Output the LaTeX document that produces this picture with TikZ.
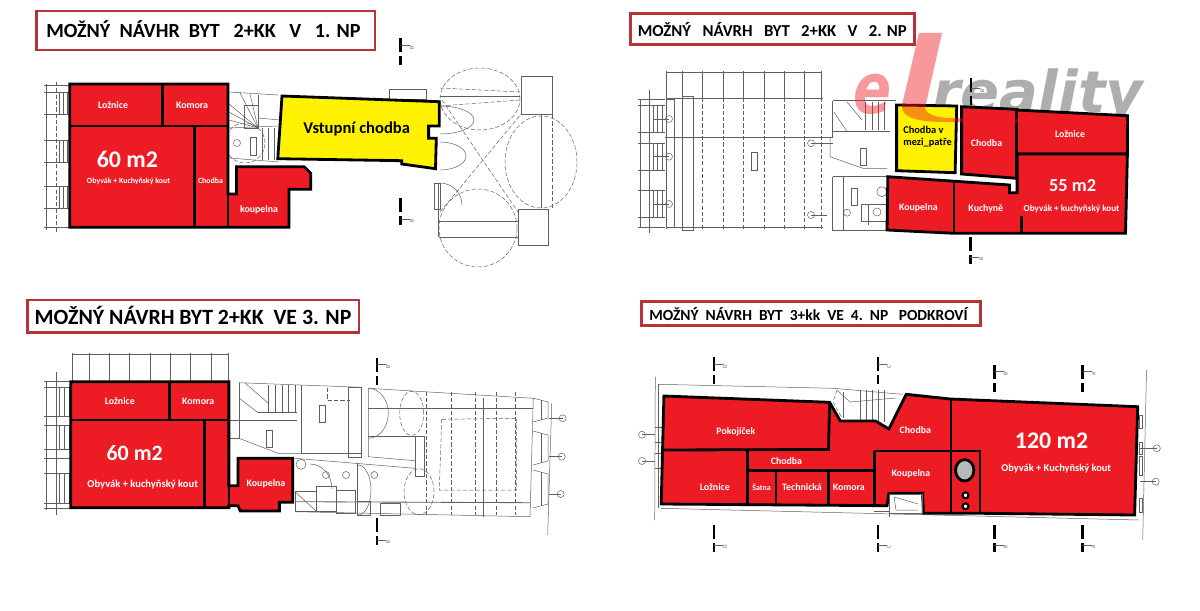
\documentclass[tikz,border=0pt]{standalone}
\usepackage{fontspec}
\usepackage{xcolor}
\setmainfont{Carlito}
\newfontfamily\wmfont{DejaVu Sans}
\usetikzlibrary{positioning}
\definecolor{roomred}{HTML}{ED1C24}
\definecolor{roomyellow}{HTML}{FFF200}
\definecolor{titlered}{HTML}{B8323A}
\definecolor{planline}{HTML}{606060}
\newcommand{\secmark}[5]{
        \draw [secbar] (#1,-#2) -- (#1,-#2-14);
        \draw [secbar] (#1,-#2-18) -- (#1,-#2-27);
        \draw [plan] (#1,-#3) -- (#1+9,-#3);
        \node [seclab] (#5) at (#1+11,-#3-2) {#4};
}
\newcommand{\callout}[4]{
        \draw [plan] (#1,-#2) circle (3.5);
        \draw [plan] (#1,-#2) -- (#3,-#4);
}
\begin{document}
\begin{tikzpicture}[x=0.025cm,y=0.025cm]
        \tikzstyle{every node}+=[inner sep=0pt]
        \tikzstyle{plan}=[draw=planline,line width=0.35pt]
        \tikzstyle{plandash}=[plan,dashed,dash pattern=on 3pt off 1.5pt]
        \tikzstyle{secbar}=[draw=black,line width=1.8pt]
        \tikzstyle{seclab}=[font=\fontsize{4}{4}\selectfont,text=planline,rotate=90]
        \tikzstyle{titlebox}=[draw=titlered,line width=2pt,fill=white]
        \tikzstyle{titletext}=[anchor=west,text=black,font=\bfseries\fontsize{14.3}{16}\selectfont]
        \tikzstyle{wall}=[draw=black,line width=2pt,line join=miter]
        \tikzstyle{room}=[wall,fill=roomred]
        \tikzstyle{hall}=[wall,fill=roomyellow]
        \tikzstyle{roomlab}=[text=white,font=\bfseries\fontsize{7}{8}\selectfont]
        \tikzstyle{smalllab}=[text=white,font=\bfseries\fontsize{5.6}{6}\selectfont]
        \tikzstyle{arealab}=[text=white,font=\bfseries\fontsize{17}{18}\selectfont]
        \tikzstyle{halllab}=[text=black,font=\bfseries\fontsize{11.8}{12}\selectfont]
        \useasboundingbox (0,0) rectangle (1200,-610);
        \fill [white] (0,0) rectangle (1200,-610);
        \draw [plan] (46,-84) -- (46,-230);
        \draw [plandash] (56.6,-82) -- (56.6,-232);
        \foreach \ytick in {85,92,114,140,162,186,208,227}
                \draw [plan] (44,-\ytick) -- (70,-\ytick);
        \foreach \yone/\ytwo in {92/114,140/162,186/208} {
                \draw [plan] (59,-\yone) rectangle (67,-\ytwo);
                \draw [plan] (63,-\yone) -- (63,-\ytwo);
        }
        \draw [plan] (229,-92) -- (278,-95);
        \draw [plan] (229,-158) -- (279,-162);
        \foreach \xend/\yend in {240/93,250/94,258/95,229/104,229/112,229/120}
                \draw [plan] (\xend,-\yend) -- (258,-128);
        \draw [plan] (244,-105) rectangle (258,-128);
        \draw [plan] (258,-118) -- (280,-120);
        \draw [plan] (229,-128) -- (278,-126);
        \draw [plan] (250,-137) rectangle (256,-155);
        \draw [plan] (237,-143) circle (3.5);
        \draw [plandash] (245,-143) circle (20);
        \foreach \xpos in {262,268,274}
                \draw [plan] (\xpos,-128) -- (\xpos,-160);
        \draw [plan] (389.6,-89) rectangle (426.7,-99);
        \draw [plandash] (480,-99) ellipse (40 and 31);
        \draw [plandash] (541,-162) ellipse (36 and 46);
        \draw [plandash] (478,-228) ellipse (39 and 39);
        \draw [plan] (521.6,-76) rectangle (552,-114);
        \draw [plan] (518.6,-209) rectangle (548,-245);
        \draw [plan] (440,-96) -- (520,-96);
        \draw [plandash] (440,-88) -- (520,-92);
        \draw [plandash] (440,-106) -- (520,-100);
        \draw [plan] (439,-221) -- (518,-221);
        \draw [plan] (439,-237) -- (518,-237);
        \draw [plan] (438,-237) -- (438,-183);
        \draw [plandash] (442,-100) -- (518,-212);
        \draw [plandash] (440,-212) -- (522,-113);
        \draw [plan] (541,-115) -- (541,-208);
        \draw [plandash] (552,-115) -- (552,-208);
        \draw [plan] (434,-183) rectangle (440,-209);
        \draw [plan] (440,-183) arc [start angle=90,end angle=0,radius=22];
        \draw [plan] (440,-142) arc [start angle=90,end angle=-90,x radius=26,y radius=14];
        \draw [plan] (440,-106) arc [start angle=90,end angle=-90,x radius=34,y radius=14];
        \secmark{400.7}{38}{45}{B'}{secAtop}
        \secmark{400.7}{198}{219}{B}{secAbot}
        \draw [room] (69.7,-84) -- (228,-84) -- (228,-194) -- (236.5,-194) -- (236.5,-166.7) -- (304.2,-166.7) -- (310.8,-173.3) -- (310.8,-189.3) -- (289,-189.3) -- (289,-227.3) -- (69.7,-227.3) -- cycle;
        \draw [wall] (69.7,-126) -- (228,-126);
        \draw [wall] (162.3,-84) -- (162.3,-126);
        \draw [wall] (194.4,-126) -- (194.4,-227.3);
        \draw [wall,line width=1pt] (228,-126) -- (228,-227.3);
        \draw [hall] (282,-96) -- (439.3,-101.7) -- (439.3,-126) -- (428.6,-126) -- (428.6,-138.3) -- (436.3,-138.3) -- (435.5,-168.7) -- (401.8,-164) -- (401.8,-160.7) -- (277.8,-158.7) -- cycle;
        \draw [titlebox] (36.5,-11) rectangle (375,-50);
        \node [titletext] (titleA) at (46,-29) {MOŽNÝ\ \ NÁVHR\ \ BYT\ \ \ 2+KK\ \ \ V\ \ \ 1. NP};
        \node [roomlab] (loznA) at (113,-105) {Ložnice};
        \node [roomlab] (komoraA) at (192,-105) {Komora};
        \node [arealab] (areaA) at (127.4,-159) {60 m2};
        \node [smalllab] (obyvakA) at (128.5,-181) {Obyvák + Kuchyňský kout};
        \node [smalllab] (chodbaA) at (210.5,-181) {Chodba};
        \node [roomlab] (koupA) at (259,-210) {koupelna};
        \node [halllab] (vstupA) at (356.7,-128.7) {Vstupní chodba};
        \draw [plan] (649,-90) -- (649,-233);
        \draw [plan] (640,-99) -- (640,-228);
        \foreach \ytick in {99.3,105,132.7,143.3,170.7,190,217.3,227.7}
                \draw [plan] (638,-\ytick) -- (665,-\ytick);
        \foreach \yone/\ytwo in {105/132.7,143.3/170.7,190/217.3} {
                \draw [plan] (653,-\yone) rectangle (662,-\ytwo);
                \draw [plan] (657.5,-\yone) -- (657.5,-\ytwo);
        }
        \draw [plan] (666,-72.7) -- (821.7,-72.7);
        \foreach \xtick in {666,682.3,702.7,723.3,743.3,764,784.3,804.7,821.7} {
                \draw [plan] (\xtick,-71) -- (\xtick,-98);
                \draw [plandash] (\xtick,-98) -- (\xtick,-230);
        }
        \draw [plan] (666,-98.3) -- (823,-98.3);
        \draw [plan] (666,-227.7) -- (823,-227.7);
        \draw [plan] (666,-99.3) rectangle (674.3,-227.7);
        \draw [plan] (682,-96) rectangle (693,-230.7);
        \draw [plan,line width=0.6pt] (665,-137.3) -- (833,-137.3);
        \draw [plan] (751.7,-152.7) rectangle (757.3,-170.7);
        \draw [plan] (860.7,-148.3) rectangle (866,-165);
        \callout{669}{119}{654}{119}
        \callout{669}{156.7}{654}{156.7}
        \callout{669}{204}{654}{204}
        \callout{811}{143.3}{833}{143.3}
        \callout{811}{215}{827}{215}
        \draw [plan] (832.7,-100.7) -- (896,-100.7);
        \draw [plan] (832.7,-100.7) -- (832.7,-137);
        \draw [plan] (832.7,-131.7) -- (890,-131.7);
        \draw [plan] (834,-112) -- (847,-131.7);
        \draw [plan] (847,-102) -- (862,-120);
        \foreach \xpos in {865,872,878,884}
                \draw [plan] (\xpos,-102) -- (\xpos,-130);
        \draw [plan] (830,-137) -- (830,-156.7) -- (863,-168.3) -- (887,-168.3);
        \draw [plan] (832.7,-176.7) -- (886.7,-176.7);
        \draw [plan] (832.7,-176.7) -- (832.7,-230.7) -- (886.7,-230.7);
        \draw [plan] (843.3,-176.7) -- (843.3,-230);
        \draw [plan] (851.7,-188.3) rectangle (857.3,-205);
        \draw [plan] (881.7,-191.7) circle (5);
        \draw [plan] (847,-212.7) circle (3.5);
        \draw [plan] (861.7,-204) rectangle (886.7,-221.7);
        \draw [plan] (868,-204) -- (868,-225);
        \draw [plan] (877,-212) circle (4);
        \node [text=gray!70,opacity=0.9,font=\wmfont\bfseries\itshape\fontsize{41}{41}\selectfont,anchor=base west] (wmreality) at (932,-113) {reality};
        \secmark{971}{78}{88}{B'}{secBtop}
        \secmark{970.4}{237}{257}{B}{secBbot}
        \draw [hall] (896.6,-105) -- (956.7,-106) -- (955.1,-172.7) -- (896.6,-170.7) -- cycle;
        \draw [room] (961.6,-106.7) -- (1016.4,-109.3) -- (1016.4,-178.3) -- (961.6,-174) -- cycle;
        \draw [room] (1016.4,-110) -- (1127.4,-115.7) -- (1127.4,-154) -- (1016.4,-154) -- cycle;
        \draw [room] (887.8,-176.7) -- (1009.5,-185) -- (1009.5,-192.7) -- (1017.1,-192.7) -- (1017.1,-154) -- (1127.4,-154) -- (1125.5,-233.3) -- (954,-233.3) -- (887,-230) -- cycle;
        \draw [wall] (954,-182.7) -- (954,-233.3);
        \draw [wall] (1021.7,-216) -- (1021.7,-233.3);
        \draw [titlebox] (630.6,-13.3) rectangle (914.6,-44.3);
        \node [titletext,font=\bfseries\fontsize{11.9}{14}\selectfont] (titleB) at (637.5,-29.3) {MOŽNÝ\ \ \ NÁVRH\ \ \ BYT\ \ \ 2+KK\ \ \ V\ \ \ 2. NP};
        \node [roomlab] (koupB) at (918.4,-208) {Koupelna};
        \node [roomlab] (kuchB) at (985.8,-208.7) {Kuchyně};
        \node [roomlab,font=\bfseries\fontsize{6.5}{8}\selectfont] (obyvakB) at (1071.5,-209.3) {Obyvák + kuchyňský kout};
        \node [arealab,font=\bfseries\fontsize{13}{14}\selectfont] (areaB) at (1072.6,-186) {55 m2};
        \node [roomlab] (loznB) at (1070,-133.7) {Ložnice};
        \node [roomlab] (chodbaB) at (986.5,-143.3) {Chodba};
        \node [halllab,font=\bfseries\fontsize{7.4}{8.7}\selectfont,align=left,anchor=north west] (mezipatroB) at (903,-126) {Chodba v\\mezi\_patře};
        \fill [roomred,opacity=0.45] (919,-33) -- (942,-33) -- (925,-108) .. controls (927,-116) and (940,-118) .. (953,-118) -- (1127,-121) -- (1127,-124) -- (945,-122) .. controls (920,-122) and (900,-118) .. (902,-105) -- cycle;
        \node [text=roomred,opacity=0.45,font=\wmfont\bfseries\itshape\fontsize{50}{50}\selectfont,xscale=0.8,anchor=base west] (wme) at (853,-114) {e};
        \draw [plan] (72,-354.3) -- (228.9,-354.3);
        \foreach \xtick in {72,88.8,109,129.4,150,170.3,190.6,211.6,228.5}
                \draw [plan] (\xtick,-353) -- (\xtick,-381);
        \draw [plan] (56,-372) -- (56,-515);
        \draw [plan] (46,-381) -- (46,-510);
        \foreach \ytick in {381,387.7,416.7,425,449,458.3,473,503,508}
                \draw [plan] (44,-\ytick) -- (70,-\ytick);
        \foreach \yone/\ytwo in {387.7/416.7,425/449,473/503} {
                \draw [plan] (59,-\yone) rectangle (69,-\ytwo);
                \draw [plan] (64,-\yone) -- (64,-\ytwo);
        }
        \draw [plan] (239,-382.7) -- (361,-387.3);
        \draw [plan] (239,-382.7) -- (239,-420) -- (296.7,-420);
        \draw [plan] (239,-438.3) -- (278.3,-453.3) -- (301.7,-453.3);
        \draw [plan] (229,-420) rectangle (239,-438);
        \draw [plan] (301.7,-385) -- (301.7,-453.3) -- (361,-453.3);
        \draw [plan] (348.3,-387.3) rectangle (361,-457.3);
        \draw [plan] (239,-398) -- (258,-412.7);
        \draw [plan] (245,-383) -- (268,-403);
        \draw [plan] (258,-412.7) -- (297,-412.7);
        \foreach \xpos in {268,275,282,288,295}
                \draw [plan] (\xpos,-385) -- (\xpos,-412);
        \draw [plan] (266.7,-430) rectangle (272.3,-447.3);
        \draw [plan] (319.3,-405) rectangle (325,-422.7);
        \draw [plandash] (327,-388) -- (327,-400) -- (350,-400);
        \draw [plan] (295,-458.3) -- (415,-468.3);
        \draw [plan] (368.3,-388.3) -- (533.3,-398.3);
        \draw [plan] (368.3,-388.3) -- (368.3,-456.7) -- (415,-460.7);
        \draw [plan,line width=0.6pt] (368.3,-408.3) -- (533.3,-408.3);
        \draw [plan] (368.3,-436.7) -- (425,-436.7);
        \draw [plan] (415,-436) rectangle (424.3,-476);
        \draw [plan,line width=0.6pt] (483.3,-398.3) -- (483.3,-516.7);
        \draw [plan] (533.3,-398.3) -- (530,-516.7);
        \draw [plan,line width=0.6pt] (295,-501.7) -- (530,-502.7);
        \draw [plan] (295,-511.7) -- (530,-516.7);
        \draw [plandash] (441.7,-419.3) -- (516.7,-418.3) -- (516.7,-490) -- (439.3,-490) -- cycle;
        \foreach \xpos in {426.7,451.7,475,496.7,515}
                \draw [plandash] (\xpos,-391.7) -- (\xpos,-515);
        \draw [plandash] (411.7,-413.3) ellipse (12 and 22);
        \draw [plandash] (419,-491.7) ellipse (15 and 23);
        \draw [plan] (368.3,-388.3) arc [start angle=90,end angle=-90,x radius=20,y radius=25];
        \draw [plan] (295,-491.7) rectangle (316.7,-511.7);
        \draw [plan] (295,-491.7) -- (316.7,-511.7);
        \draw [plan] (316.7,-486.7) rectangle (336.7,-511.7);
        \draw [plan] (336.7,-490) rectangle (355,-513);
        \draw [plan] (357.3,-463) -- (357.3,-515);
        \draw [plan] (357.7,-501.7) rectangle (370,-515);
        \draw [plan] (380,-503.3) rectangle (400,-515.7);
        \draw [plan] (301,-464.3) circle (5);
        \draw [plan] (326,-475) circle (3.5);
        \draw [plan] (346,-475) circle (3.5);
        \draw [plan] (374.3,-475) circle (3.5);
        \draw [plan] (310,-464) arc [start angle=90,end angle=0,x radius=22,y radius=25];
        \draw [plan] (358,-465) arc [start angle=90,end angle=-90,x radius=13,y radius=25];
        \foreach \yone/\ytwo in {398/422,431/465,470/508} {
                \draw [plan] (533,-\yone) -- (548,-\yone-4) -- (548,-\ytwo+4) -- (533,-\ytwo);
                \draw [plan] (541,-\yone-2) -- (541,-\ytwo+2);
        }
        \draw [plan] (551.7,-403.3) -- (547.7,-535);
        \callout{562.7}{418.3}{549}{418.3}
        \callout{561.7}{456.7}{549}{456.7}
        \callout{560.7}{494}{549}{494}
        \secmark{377}{358}{364}{B'}{secCtop}
        \secmark{377}{518}{540}{B}{secCbot}
        \draw [room] (70.8,-381.7) -- (228.9,-381.7) -- (228.9,-485.7) -- (238,-485.7) -- (238,-458.3) -- (292.8,-458.3) -- (292.8,-502.3) -- (279.4,-502.3) -- (279.4,-511) -- (240.3,-511) -- (238,-505.7) -- (228.9,-505.7) -- (228.9,-507.7) -- (70.8,-507.7) -- cycle;
        \draw [wall] (70.8,-420) -- (228.9,-420);
        \draw [wall] (169.5,-381.7) -- (169.5,-420);
        \draw [wall] (204.7,-420) -- (204.7,-507.7);
        \draw [wall,line width=1pt] (228.9,-420) -- (228.9,-507.7);
        \draw [titlebox] (27.5,-300) rectangle (359,-332.7);
        \node [titletext,font=\bfseries\fontsize{15.5}{18}\selectfont] (titleC) at (34.4,-315.7) {MOŽNÝ NÁVRH BYT 2+KK\ \ VE 3. NP};
        \node [roomlab] (loznC) at (119.8,-401) {Ložnice};
        \node [roomlab] (komoraC) at (198.2,-401.7) {Komora};
        \node [arealab,font=\bfseries\fontsize{15.6}{18}\selectfont] (areaC) at (134.7,-453) {60 m2};
        \node [roomlab,font=\bfseries\fontsize{7.5}{8}\selectfont] (obyvakC) at (142.7,-484.7) {Obyvák + kuchyňský kout};
        \node [roomlab] (koupC) at (266,-484) {Koupelna};
        \draw [plan] (658.6,-384.3) -- (833.4,-388.3) -- (902.3,-394.3);
        \draw [plan] (661,-508.3) -- (1138.8,-520);
        \draw [plan] (655.3,-376.7) -- (654.7,-520);
        \draw [plan] (658.6,-384.3) -- (658.6,-508);
        \draw [plan] (1146.5,-370) -- (1142.7,-540);
        \foreach \yone/\ytwo in {427/442,453/468} {
                \draw [plan] (655,-\yone) -- (662,-\yone);
                \draw [plan] (655,-\ytwo) -- (662,-\ytwo);
                \draw [plan] (658,-\yone) -- (658,-\ytwo);
        }
        \callout{642}{434.7}{655}{434.7}
        \callout{642}{461}{655}{461}
        \callout{1156.8}{448.3}{1140}{448.3}
        \callout{1155.7}{481.7}{1140}{481.7}
        \foreach \yone/\ytwo in {415/428,442/454,456/475,498/512}
                \draw [plan] (1139,-\yone) rectangle (1142,-\ytwo);
        \draw [plandash] (837,-390) -- (833,-402) -- (842,-418);
        \foreach \xpos in {860,866,872,878,884}
                \draw [plan] (\xpos,-390) -- (\xpos,-422);
        \draw [plan] (837,-390) -- (850,-402) -- (896,-398);
        \draw [plan] (843,-392) -- (843,-418);
        \secmark{714}{357}{364}{D'}{secDtopa}
        \secmark{714}{525}{545}{D}{secDbota}
        \secmark{877.8}{357}{364}{C'}{secDtopb}
        \secmark{877.8}{525}{545}{C}{secDbotb}
        \secmark{994.6}{365}{371}{B'}{secDtopc}
        \secmark{994.6}{525}{545}{B}{secDbotc}
        \secmark{1082.6}{365}{371}{A'}{secDtopd}
        \secmark{1082.6}{525}{545}{A}{secDbotd}
        \draw [room] (663.9,-396) -- (829.6,-402.3) -- (840.3,-421) -- (875.5,-421) -- (888.9,-429) -- (906.2,-394.3) -- (950.2,-399) -- (1137.7,-406.7) -- (1134.6,-515) -- (980.8,-513.3) -- (923.4,-513.3) -- (922.6,-493.3) -- (888.9,-493.3) -- (887,-505.7) -- (661.2,-504) -- cycle;
        \draw [wall] (662.5,-450) -- (828.5,-449.5) -- (829.6,-402.3);
        \draw [wall] (747.3,-450) -- (747.3,-504.5);
        \draw [wall] (747.3,-470.7) -- (874.4,-470.7);
        \draw [wall] (776,-470.7) -- (776,-505);
        \draw [wall] (828.5,-470.7) -- (828.5,-505);
        \draw [wall] (874.4,-451) -- (874.4,-505.5);
        \draw [wall] (874.4,-451) -- (980,-451) -- (980,-513.3);
        \draw [wall] (951,-399) -- (951,-513.3);
        \draw [plan] (888.9,-494) rectangle (922.6,-513);
        \draw [plan] (894,-497) -- (896,-510) -- (918,-510);
        \draw [plan] (894,-497) -- (918,-504);
        \draw [plan] (874,-511) -- (889,-511) -- (889,-517);
        \draw [wall,fill=gray!55] (964.7,-470.3) ellipse (9.2 and 10.7);
        \draw [draw=black,fill=white,line width=1.5pt] (965.5,-495.3) circle (3);
        \draw [draw=black,fill=white,line width=1.5pt] (965.5,-506.3) circle (3);
        \draw [titlebox] (641.3,-301.7) rectangle (980.8,-325.7);
        \node [titletext,font=\bfseries\fontsize{11}{12}\selectfont] (titleD) at (649,-314.3) {MOŽNÝ\ \ NÁVRH\ \ BYT\ \ 3+kk\ \ VE\ \ 4.\ \ NP\ \ \ PODKROVÍ};
        \node [roomlab] (pokojD) at (735.9,-432.3) {Pokojíček};
        \node [roomlab] (chodbaDa) at (915.3,-430.3) {Chodba};
        \node [roomlab] (chodbaDb) at (786.4,-461) {Chodba};
        \node [roomlab] (loznD) at (714.8,-486.7) {Ložnice};
        \node [smalllab] (satnaD) at (761.5,-487) {Šatna};
        \node [roomlab] (techD) at (802,-487.3) {Technická};
        \node [roomlab] (komoraD) at (848.8,-487.3) {Komora};
        \node [roomlab] (koupD) at (910.8,-474.3) {Koupelna};
        \node [arealab] (areaD) at (1051.6,-441) {120 m2};
        \node [roomlab,font=\bfseries\fontsize{7.4}{8}\selectfont] (obyvakD) at (1056.2,-468.7) {Obyvák + Kuchyňský kout};
\end{tikzpicture}
\end{document}
